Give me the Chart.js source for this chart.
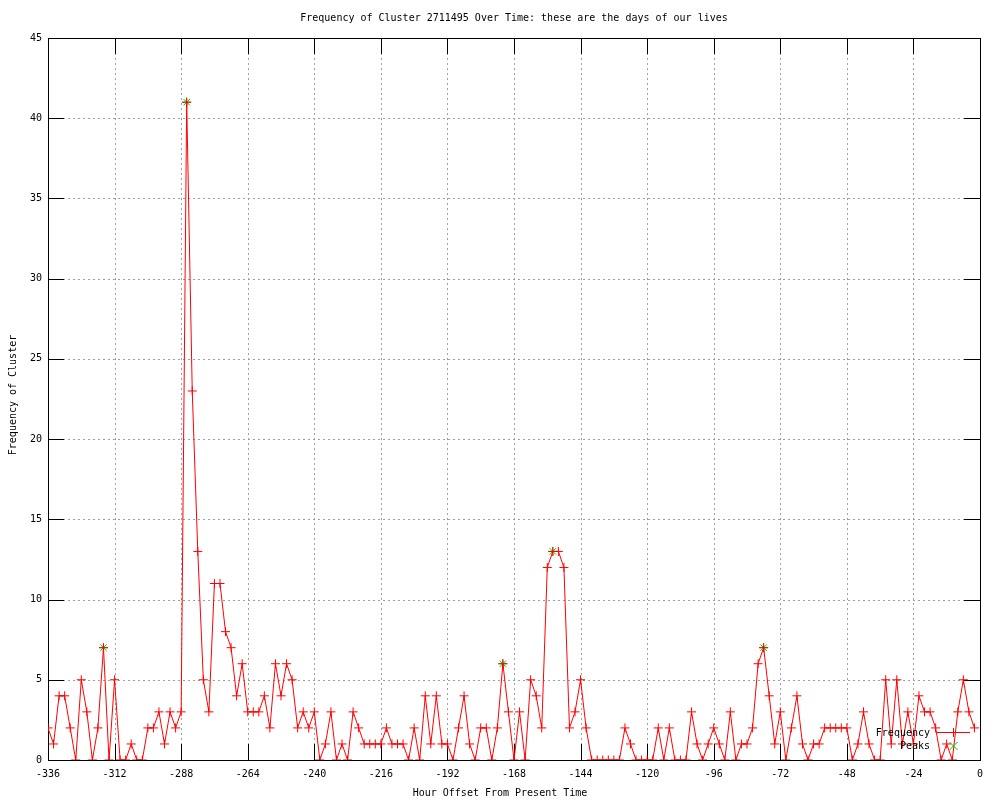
<!DOCTYPE html>
<html>
<head>
<meta charset="utf-8">
<title>Frequency of Cluster 2711495 Over Time</title>
<script src="https://cdn.jsdelivr.net/npm/chart.js@4.4.0/dist/chart.umd.min.js"></script>
<style>
  html, body { margin: 0; padding: 0; background: #fff; }
  #wrap { width: 1000px; height: 800px; }
</style>
</head>
<body>
<div id="wrap"><canvas id="chart" width="1000" height="800"></canvas></div>
<script>
// Hour offsets (x) and cluster frequency
const hours = [
  -336, -334, -332, -330, -328, -326, -324, -322, -320, -318, -316, -314,
  -312, -310, -308, -306, -304, -302, -300, -298, -296, -294, -292, -290,
  -288, -286, -284, -282, -280, -278, -276, -274, -272, -270, -268, -266,
  -264, -262, -260, -258, -256, -254, -252, -250, -248, -246, -244, -242,
  -240, -238, -236, -234, -232, -230, -228, -226, -224, -222, -220, -218,
  -216, -214, -212, -210, -208, -206, -204, -202, -200, -198, -196, -194,
  -192, -190, -188, -186, -184, -182, -180, -178, -176, -174, -172, -170,
  -168, -166, -164, -162, -160, -158, -156, -154, -152, -150, -148, -146,
  -144, -142, -140, -138, -136, -134, -132, -130, -128, -126, -124, -122,
  -120, -118, -116, -114, -112, -110, -108, -106, -104, -102, -100, -98,
  -96, -94, -92, -90, -88, -86, -84, -82, -80, -78, -76, -74,
  -72, -70, -68, -66, -64, -62, -60, -58, -56, -54, -52, -50,
  -48, -46, -44, -42, -40, -38, -36, -34, -32, -30, -28, -26,
  -24, -22, -20, -18, -16, -14, -12, -10, -8, -6, -4, -2
];
const counts = [
  2, 1, 4, 4, 2, 0, 5, 3, 0, 2, 7, 0,
  5, 0, 0, 1, 0, 0, 2, 2, 3, 1, 3, 2,
  3, 41, 23, 13, 5, 3, 11, 11, 8, 7, 4, 6,
  3, 3, 3, 4, 2, 6, 4, 6, 5, 2, 3, 2,
  3, 0, 1, 3, 0, 1, 0, 3, 2, 1, 1, 1,
  1, 2, 1, 1, 1, 0, 2, 0, 4, 1, 4, 1,
  1, 0, 2, 4, 1, 0, 2, 2, 0, 2, 6, 3,
  0, 3, 0, 5, 4, 2, 12, 13, 13, 12, 2, 3,
  5, 2, 0, 0, 0, 0, 0, 0, 2, 1, 0, 0,
  0, 0, 2, 0, 2, 0, 0, 0, 3, 1, 0, 1,
  2, 1, 0, 3, 0, 1, 1, 2, 6, 7, 4, 1,
  3, 0, 2, 4, 1, 0, 1, 1, 2, 2, 2, 2,
  2, 0, 1, 3, 1, 0, 0, 5, 1, 5, 1, 3,
  1, 4, 3, 3, 2, 0, 1, 0, 3, 5, 3, 2
];

// Detected peaks
const peakHours = [-316, -286, -172, -154, -78];
const peakCounts = [7, 41, 6, 13, 7];

// Axis ticks
const xTicks = [-336, -312, -288, -264, -240, -216, -192, -168, -144, -120, -96, -72, -48, -24, 0];
const yTicks = [0, 5, 10, 15, 20, 25, 30, 35, 40, 45];

const FONT = '"DejaVu Sans Mono", "Liberation Mono", monospace';

// Grid, inward tick marks and border, gnuplot style
const framePlugin = {
  id: 'frame',
  beforeDatasetsDraw(chart) {
    const { ctx, chartArea: a, scales } = chart;
    const tick = 16;
    ctx.save();
    ctx.lineWidth = 1;
    ctx.strokeStyle = '#a0a0a0';
    ctx.setLineDash([2, 3]);
    xTicks.forEach(v => {
      if (v === xTicks[0] || v === xTicks[xTicks.length - 1]) return;
      const px = Math.round(scales.x.getPixelForValue(v)) + 0.5;
      ctx.beginPath(); ctx.moveTo(px, a.top); ctx.lineTo(px, a.bottom); ctx.stroke();
    });
    yTicks.forEach(v => {
      if (v === yTicks[0] || v === yTicks[yTicks.length - 1]) return;
      const py = Math.round(scales.y.getPixelForValue(v)) + 0.5;
      ctx.beginPath(); ctx.moveTo(a.left, py); ctx.lineTo(a.right, py); ctx.stroke();
    });
    ctx.setLineDash([]);
    ctx.strokeStyle = '#000';
    xTicks.forEach(v => {
      const px = Math.round(scales.x.getPixelForValue(v)) + 0.5;
      ctx.beginPath();
      ctx.moveTo(px, a.bottom); ctx.lineTo(px, a.bottom - tick);
      ctx.moveTo(px, a.top); ctx.lineTo(px, a.top + tick);
      ctx.stroke();
    });
    yTicks.forEach(v => {
      const py = Math.round(scales.y.getPixelForValue(v)) + 0.5;
      ctx.beginPath();
      ctx.moveTo(a.left, py); ctx.lineTo(a.left + tick, py);
      ctx.moveTo(a.right, py); ctx.lineTo(a.right - tick, py);
      ctx.stroke();
    });
    ctx.strokeRect(Math.round(a.left) + 0.5, Math.round(a.top) + 0.5,
      Math.round(a.right - a.left), Math.round(a.bottom - a.top));
    ctx.restore();
  },
  afterDraw(chart) {
    const { ctx } = chart;
    ctx.save();
    ctx.fillStyle = '#000';
    ctx.font = '10px ' + FONT;
    ctx.textBaseline = 'middle';
    ctx.textAlign = 'center';
    ctx.fillText('Frequency of Cluster 2711495 Over Time: these are the days of our lives', 514, 18);
    ctx.fillText('Hour Offset From Present Time', 500, 793);
    ctx.save();
    ctx.translate(13, 395);
    ctx.rotate(-Math.PI / 2);
    ctx.fillText('Frequency of Cluster', 0, 0);
    ctx.restore();

    // key, bottom right inside the plot
    ctx.textAlign = 'right';
    ctx.fillText('Frequency', 930, 733);
    ctx.fillText('Peaks', 930, 746);
    ctx.strokeStyle = '#ff0000';
    ctx.lineWidth = 1;
    ctx.beginPath();
    ctx.moveTo(937, 732.5); ctx.lineTo(970, 732.5);
    ctx.moveTo(953.5, 728); ctx.lineTo(953.5, 737);
    ctx.stroke();
    ctx.strokeStyle = '#00c000';
    ctx.beginPath();
    ctx.moveTo(949.5, 742); ctx.lineTo(957.5, 750);
    ctx.moveTo(957.5, 742); ctx.lineTo(949.5, 750);
    ctx.stroke();
    ctx.restore();
  }
};

const ctx = document.getElementById('chart').getContext('2d');
new Chart(ctx, {
  type: 'line',
  data: {
    datasets: [
      {
        label: 'Frequency',
        data: hours.map((h, i) => ({ x: h, y: counts[i] })),
        borderColor: '#ff0000',
        borderWidth: 1,
        tension: 0,
        fill: false,
        pointStyle: 'cross',
        pointRadius: 4.5,
        pointBorderColor: '#ff0000',
        pointBorderWidth: 1,
      },
      {
        label: 'Peaks',
        data: peakHours.map((h, i) => ({ x: h, y: peakCounts[i] })),
        showLine: false,
        pointStyle: 'star',
        pointRadius: 4.5,
        pointBorderColor: '#00c000',
        pointBorderWidth: 1,
      },
    ],
  },
  options: {
    responsive: false,
    animation: false,
    events: [],
    layout: { padding: { top: 38, right: 20, left: 0, bottom: 0 } },
    plugins: {
      legend: { display: false },
      title: { display: false },
      tooltip: { enabled: false },
    },
    scales: {
      x: {
        type: 'linear',
        min: -336,
        max: 0,
        afterBuildTicks: s => { s.ticks = xTicks.map(v => ({ value: v })); },
        afterFit: s => { s.height = 40; },
        grid: { display: false, drawTicks: false },
        border: { display: false },
        ticks: {
          color: '#000',
          font: { family: FONT, size: 10 },
          padding: 8,
          maxRotation: 0,
          autoSkip: false,
        },
      },
      y: {
        type: 'linear',
        min: 0,
        max: 45,
        afterBuildTicks: s => { s.ticks = yTicks.map(v => ({ value: v })); },
        afterFit: s => { s.width = 48; },
        grid: { display: false, drawTicks: false },
        border: { display: false },
        ticks: {
          color: '#000',
          font: { family: FONT, size: 10 },
          padding: 6,
        },
      },
    },
  },
  plugins: [framePlugin],
});
</script>
</body>
</html>
